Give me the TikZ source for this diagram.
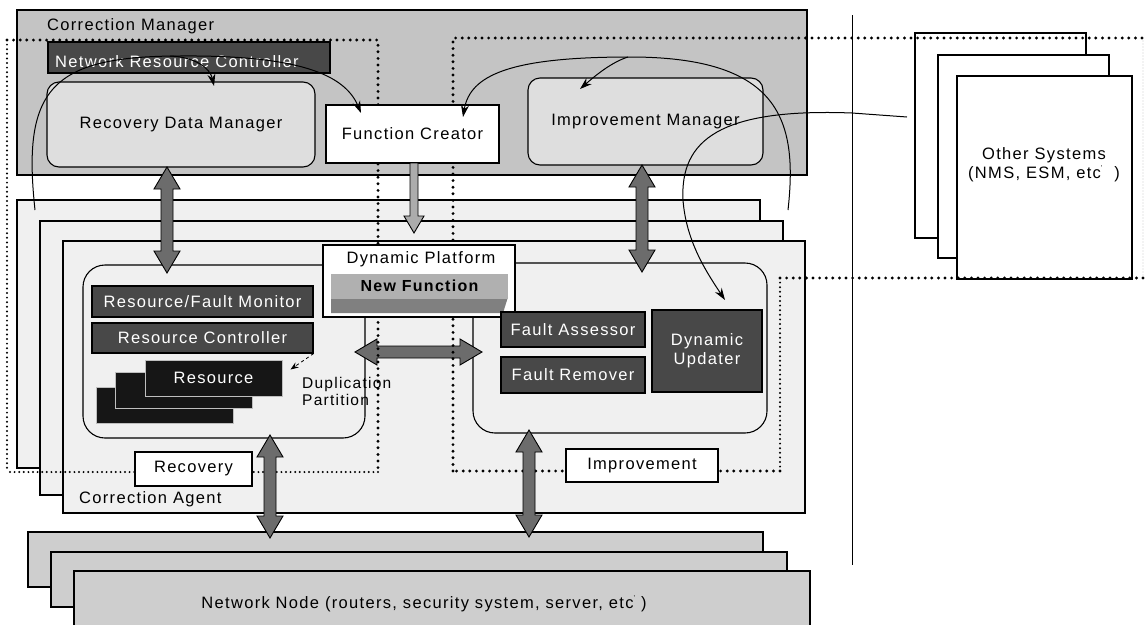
\documentclass[tikz,border=0pt]{standalone}
\usepackage{fontspec}
\setmainfont{Liberation Sans}[LetterSpace=8]
\usetikzlibrary{arrows.meta, calc, positioning}

\definecolor{mgrgray}{RGB}{196,196,196}
\definecolor{datagray}{RGB}{222,222,222}
\definecolor{agentgray}{RGB}{240,240,240}
\definecolor{nodegray}{RGB}{206,206,206}
\definecolor{boxdark}{RGB}{72,72,72}
\definecolor{resblack}{RGB}{22,22,22}
\definecolor{arrowgray}{RGB}{108,108,108}
\definecolor{lightarrow}{RGB}{172,172,172}
\definecolor{nflight}{RGB}{176,176,176}
\definecolor{nfdark}{RGB}{128,128,128}

% fat arrows, drawn between two named points
\newcommand{\vdouble}[2]{%
  \path[fatarrow] let \p1=(#1), \p2=(#2) in
    (\x1,\y1) -- ({\x1+13pt},{\y1-22pt}) -- ({\x1+6pt},{\y1-22pt}) -- ({\x1+6pt},{\y2+22pt})
    -- ({\x1+13pt},{\y2+22pt}) -- (\x1,\y2) -- ({\x1-13pt},{\y2+22pt}) -- ({\x1-6pt},{\y2+22pt})
    -- ({\x1-6pt},{\y1-22pt}) -- ({\x1-13pt},{\y1-22pt}) -- cycle;}
\newcommand{\hdouble}[2]{%
  \path[fatarrow] let \p1=(#1), \p2=(#2) in
    (\x1,\y1) -- ({\x1+22pt},{\y1+13pt}) -- ({\x1+22pt},{\y1+6pt}) -- ({\x2-22pt},{\y1+6pt})
    -- ({\x2-22pt},{\y1+13pt}) -- (\x2,\y1) -- ({\x2-22pt},{\y1-13pt}) -- ({\x2-22pt},{\y1-6pt})
    -- ({\x1+22pt},{\y1-6pt}) -- ({\x1+22pt},{\y1-13pt}) -- cycle;}
\newcommand{\vsingle}[2]{%
  \path[fatarrow, fill=lightarrow] let \p1=(#1), \p2=(#2) in
    ({\x1-4pt},\y1) -- ({\x1+4pt},\y1) -- ({\x1+4pt},{\y2+17pt}) -- ({\x1+10pt},{\y2+17pt})
    -- (\x1,\y2) -- ({\x1-10pt},{\y2+17pt}) -- ({\x1-4pt},{\y2+17pt}) -- cycle;}
\newcommand{\etcmark}{\raisebox{0.9ex}{\fontsize{7}{7}\selectfont '}}

\begin{document}
\begin{tikzpicture}[x=1pt, y=-1pt,
    every node/.style={font=\fontsize{16.5}{19}\selectfont, inner sep=0pt},
    box/.style={draw, line width=1.1pt, rectangle},
    darkbox/.style={box, fill=boxdark, text=white},
    resbox/.style={fill=resblack, draw=white!75!black, line width=1pt, minimum width=137pt, minimum height=36pt},
    bigdots/.style={line width=3.2pt, line cap=round, dash pattern=on 0pt off 6.6pt},
    smalldots/.style={line width=2.2pt, line cap=round, dash pattern=on 0pt off 4.6pt},
    faintdots/.style={line width=0.9pt, line cap=round, dash pattern=on 0pt off 3pt, black!55},
    link/.style={line width=1pt, -{Stealth[length=12pt, width=8pt]}},
    fatarrow/.style={draw, line width=0.9pt, fill=arrowgray},
]
    \fill[white] (0,0) rectangle (1145,624);
    \useasboundingbox (0,0) rectangle (1145,624);

    % Network nodes
    \node[box, fill=nodegray, minimum width=735pt, minimum height=55pt] (nn1) at (395.5,559.5) {};
    \node[box, fill=nodegray, minimum width=736pt, minimum height=55pt] (nn2) at (419,579.5) {};
    \node[box, fill=nodegray, minimum width=736pt, minimum height=59pt] (nn3) at (442,600.5) {};
    \node (nntext) at (424,604) {Network Node (routers, security system, server, etc\etcmark\ )};

    % Correction agents
    \node[box, fill=agentgray, minimum width=743pt, minimum height=268pt] (ca1) at (388.5,334) {};
    \node[box, fill=agentgray, minimum width=743pt, minimum height=274pt] (ca2) at (411.5,358) {};
    \node[box, fill=agentgray, minimum width=742pt, minimum height=272pt] (ca3) at (434,377) {};
    \node[anchor=west] (calabel) at (79,499) {Correction Agent};
    \node[box, fill=agentgray, rounded corners=22pt, minimum width=282pt, minimum height=173pt] (rag) at (224,351.5) {};
    \node[box, fill=agentgray, rounded corners=22pt, minimum width=294pt, minimum height=170pt] (iag) at (620,348) {};

    % Correction manager
    \node[box, fill=mgrgray, minimum width=790pt, minimum height=165pt] (cm) at (412,92.5) {};
    \node[anchor=west] (cmlabel) at (47,26) {Correction Manager};
    \node[darkbox, minimum width=282pt, minimum height=31pt] (nrc) at (189,57.5) {};
    \node[anchor=west, text=white] (nrclabel) at (55,62) {Network Resource Controller};
    \node[box, fill=datagray, rounded corners=12pt, minimum width=268pt, minimum height=85pt] (rdm) at (181,124.5) {Recovery Data Manager};
    \node[box, fill=datagray, rounded corners=12pt, minimum width=235pt, minimum height=87pt] (im) at (645.5,121.5) {Improvement Manager};

    % between recovery and improvement
    \coordinate (hl) at (355,352);
    \coordinate (hr) at (482,352);
    \hdouble{hl}{hr}

    % Other systems
    \node[box, fill=white, minimum width=171pt, minimum height=205pt] (os1) at (1000.5,135.5) {};
    \node[box, fill=white, minimum width=171pt, minimum height=203pt] (os2) at (1023.5,156.5) {};
    \node[box, fill=white, minimum width=175pt, minimum height=203pt] (os3) at (1044.5,177.5) {};
    \node[align=center] (ostext) at (1044,165) {Other Systems\\(NMS, ESM, etc\etcmark\ \ )};
    \coordinate (sepTop) at (852,15);
    \coordinate (sepBot) at (852,565);
    \draw[line width=1pt] (sepTop) -- (sepBot);

    % Recovery / Improvement regions
    \draw[smalldots] (7,40) -- (7,472);
    \draw[bigdots] (7,40) -- (378,40) -- (378,472);
    \draw[smalldots] (378,472) -- (7,472);
    \draw[bigdots] (453,471) -- (453,38) -- (1143,38);
    \draw[faintdots] (1143,38) -- (1143,278);
    \draw[bigdots] (1143,278) -- (780,278);
    \draw[smalldots] (780,278) -- (780,471);
    \draw[bigdots] (780,471) -- (453,471);

    \node[box, fill=white, minimum width=173pt, minimum height=58pt] (fc) at (412.5,134) {Function Creator};
    \node[box, fill=white, minimum width=192pt, minimum height=72pt] (dp) at (419,281) {};
    \node (dptext) at (421,259) {Dynamic Platform};
    \fill[nfdark] (331,297) -- (508,297) -- (503,313) -- (331,313) -- cycle;
    \node[fill=nflight, minimum width=177pt, minimum height=25pt, font=\bfseries\fontsize{16}{19}\selectfont] (nf) at (419.5,286) {New Function};
    \node[box, fill=white, minimum width=117pt, minimum height=34pt] (rec) at (193.5,469) {Recovery};
    \node[box, fill=white, minimum width=152pt, minimum height=33pt] (imp) at (642,465.5) {Improvement};

    % Recovery agent parts
    \node[darkbox, minimum width=221pt, minimum height=31pt] (rfm) at (202.5,301.5) {Resource/Fault Monitor};
    \node[darkbox, minimum width=221pt, minimum height=30pt] (rc) at (202.5,338) {Resource Controller};
    \node[resbox] (res3) at (165,405) {};
    \node[resbox] (res2) at (183.5,390) {};
    \node[resbox, text=white] (res1) at (213.5,378) {Resource};
    \node[anchor=west, align=left, font=\fontsize{15.5}{17}\selectfont] (dup) at (302,391) {Duplication\\Partition};
    \draw[dashed, line width=0.8pt, -{Stealth[length=8pt, width=6pt]}] (rc.south east) -- ($(res1.north east)+(8,10)$);

    % Improvement agent parts
    \node[darkbox, minimum width=144pt, minimum height=35pt] (fa) at (573,329.5) {Fault Assessor};
    \node[darkbox, minimum width=144pt, minimum height=36pt] (fr) at (573,375) {Fault Remover};
    \node[darkbox, align=center, minimum width=110pt, minimum height=82pt] (du) at (707,351) {Dynamic\\Updater};

    % fat arrows
    \coordinate (a1) at (167,167);  \coordinate (a2) at (167,273);
    \coordinate (b1) at (642,165);  \coordinate (b2) at (642,272);
    \coordinate (c1) at (270,435);  \coordinate (c2) at (270,538);
    \coordinate (d1) at (529,430);  \coordinate (d2) at (529,537);
    \coordinate (f1) at (414,163);  \coordinate (f2) at (414,233);
    \vdouble{a1}{a2}
    \vdouble{b1}{b2}
    \vdouble{c1}{c2}
    \vdouble{d1}{d2}
    \vsingle{f1}{f2}

    % control flows
    \coordinate (recStart) at (35,210);
    \coordinate (impStart) at (788,210);
    \coordinate (osStart) at (907,117);
    \draw[link] (recStart) .. controls (22,90) and (50,56) .. (180,56) .. controls (300,55) and (345,75) .. (361,113);
    \draw[link] (170,56) .. controls (195,57) and (210,68) .. (214,86);
    \draw[link] (impStart) .. controls (798,120) and (780,57) .. (630,57) .. controls (510,57) and (470,75) .. (463,117);
    \draw[link] (628,57) .. controls (612,62) and (596,75) .. (580,89);
    \draw[link] (osStart) -- (852,113) .. controls (720,108) and (680,140) .. (683,200) .. controls (686,240) and (705,270) .. (725,300);
\end{tikzpicture}
\end{document}
